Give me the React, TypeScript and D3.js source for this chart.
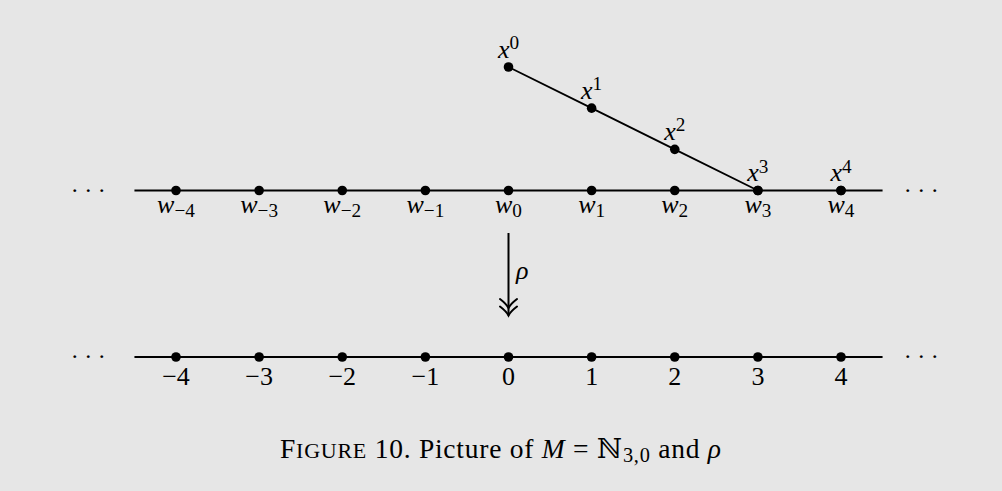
import React from "react";
import * as d3 from "d3";

// ---- data ----
const positions = [-4, -3, -2, -1, 0, 1, 2, 3, 4];
const topLabels = ["−4", "−3", "−2", "−1", "0", "1", "2", "3", "4"]; // subscripts of w
const bottomLabels = ["−4", "−3", "−2", "−1", "0", "1", "2", "3", "4"];
const xPointPos = [0, 1, 2, 3, 4];
const xPointHeight = [3, 2, 1, 0, 0];
const xPointSup = ["0", "1", "2", "3", "4"];

const W = 1002;
const H = 491;
const FONT = "'Liberation Serif', 'DejaVu Serif', serif";
const INK = "#000";

export default function App() {
  const x = d3.scaleLinear().domain([-4, 4]).range([176, 841]);
  const yTop = d3.scaleLinear().domain([0, 3]).range([190.5, 67]);
  const lineTopY = yTop(0);
  const lineBotY = 357;
  const extMin = x(-4.5);
  const extMax = x(4.5);
  const r = 4.8;

  const xLine = d3
    .line<number>()
    .x((i) => x(xPointPos[i]))
    .y((i) => yTop(xPointHeight[i]));
  const slantPath = xLine([0, 1, 2, 3]) || "";

  const ax = x(0);
  const arrowTop = 233;
  const tips = [308, 315.5];
  const head = (ty: number) =>
    `M ${ax - 8.5},${ty - 9} Q ${ax - 2},${ty - 4} ${ax},${ty} Q ${ax + 2},${ty - 4} ${ax + 8.5},${ty - 9}`;

  const fs = 26;
  const cfs = 27.5;
  const sub = 0.74;

  return (
    <svg
      width={W}
      height={H}
      viewBox={`0 0 ${W} ${H}`}
      style={{ position: "fixed", left: 0, top: 0, display: "block" }}
      fontFamily={FONT}
    >
      <rect x={0} y={0} width={W} height={H} fill="#e6e6e6" />

      {/* top line */}
      <line x1={extMin} x2={extMax} y1={lineTopY} y2={lineTopY} stroke={INK} strokeWidth={2} />
      <path d={slantPath} fill="none" stroke={INK} strokeWidth={1.8} />
      {positions.map((p, i) => (
        <circle key={"tw" + i} cx={x(p)} cy={lineTopY} r={r} fill={INK} />
      ))}
      {xPointPos.map((p, i) => (
        <circle key={"xp" + i} cx={x(p)} cy={yTop(xPointHeight[i])} r={r} fill={INK} />
      ))}
      {positions.map((p, i) => (
        <text key={"wl" + i} x={x(p)} y={lineTopY + 22.5} fontSize={fs} textAnchor="middle" fill={INK}>
          <tspan fontStyle="italic">w</tspan>
          <tspan fontSize={fs * sub} dy={3.5}>{topLabels[i]}</tspan>
        </text>
      ))}
      {xPointPos.map((p, i) => (
        <text key={"xl" + i} x={x(p)} y={yTop(xPointHeight[i]) - 9.5} fontSize={fs} textAnchor="middle" fill={INK}>
          <tspan fontStyle="italic">x</tspan>
          <tspan fontSize={fs * sub} dy={-8.5}>{xPointSup[i]}</tspan>
        </text>
      ))}
      <text x={91} y={lineTopY + 7} fontSize={24} textAnchor="middle" fill={INK} letterSpacing={5.5}>
        ···
      </text>
      <text x={924} y={lineTopY + 7} fontSize={24} textAnchor="middle" fill={INK} letterSpacing={5.5}>
        ···
      </text>

      {/* arrow */}
      <line x1={ax} x2={ax} y1={arrowTop} y2={tips[1]} stroke={INK} strokeWidth={2} />
      {tips.map((t, i) => (
        <path key={"h" + i} d={head(t)} fill="none" stroke={INK} strokeWidth={2} strokeLinecap="round" />
      ))}
      <text x={516} y={279} fontSize={fs} fontStyle="italic" fill={INK}>
        ρ
      </text>

      {/* bottom line */}
      <line x1={extMin} x2={extMax} y1={lineBotY} y2={lineBotY} stroke={INK} strokeWidth={2} />
      {positions.map((p, i) => (
        <circle key={"bw" + i} cx={x(p)} cy={lineBotY} r={r} fill={INK} />
      ))}
      {positions.map((p, i) => (
        <text key={"bl" + i} x={x(p)} y={lineBotY + 28} fontSize={fs} textAnchor="middle" fill={INK}>
          {bottomLabels[i]}
        </text>
      ))}
      <text x={91} y={lineBotY + 7} fontSize={24} textAnchor="middle" fill={INK} letterSpacing={5.5}>
        ···
      </text>
      <text x={924} y={lineBotY + 7} fontSize={24} textAnchor="middle" fill={INK} letterSpacing={5.5}>
        ···
      </text>

      {/* caption */}
      <text
        x={280}
        y={458}
        fontSize={cfs}
        fill={INK}
        textLength={441}
        lengthAdjust="spacing"
      >
        <tspan>F</tspan>
        <tspan fontSize={cfs * 0.8}>IGURE</tspan>
        <tspan> 10.  Picture of </tspan>
        <tspan fontStyle="italic">M</tspan>
        <tspan> = ℕ</tspan>
        <tspan fontSize={cfs * sub} dy={4}>3,0</tspan>
        <tspan dy={-4}> and </tspan>
        <tspan fontStyle="italic">ρ</tspan>
      </text>
    </svg>
  );
}
